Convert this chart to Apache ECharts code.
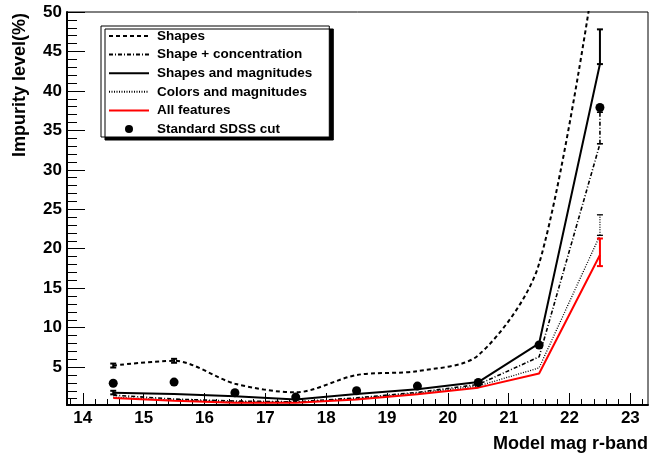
<!DOCTYPE html>
<html>
<head>
<meta charset="utf-8">
<script src="https://cdn.jsdelivr.net/npm/echarts@6/dist/echarts.min.js"></script>
<style>
html,body{margin:0;padding:0;background:#fff;}
#chart{width:651px;height:455px;}
</style>
</head>
<body>
<div id="chart"></div>
<script>
// ---- data ----
const mags = [14.5, 15.5, 16.5, 17.5, 18.5, 19.5, 20.5, 21.5, 22.5];
const shapes = [5.2, 5.8, 2.9, 1.8, 4.0, 4.5, 6.5, 18.1, 59.5];
const shapeConc = [1.45, 0.95, 0.7, 0.6, 1.1, 1.8, 2.8, 6.3, 33.3];
const shapesMags = [1.75, 1.6, 1.3, 0.9, 1.6, 2.2, 3.1, 8.0, 43.4];
const colorsMags = [1.2, 0.8, 0.6, 0.55, 1.0, 1.7, 2.6, 4.9, 21.7];
const allFeat = [1.1, 0.75, 0.5, 0.5, 0.9, 1.55, 2.4, 4.2, 19.2];
const sdss = [2.95, 3.1, 1.75, 1.2, 2.0, 2.6, 3.05, 7.8, 37.9];

// error bars: [mag, low, high]
const shapesErr = [[14.5, 4.95, 5.45], [15.5, 5.55, 6.05]];
const shapesMagsErr = [[14.5, 1.55, 2.0], [22.5, 43.4, 47.8]];
const shapeConcErr = [[22.5, 33.3, 37.3]];
const colorsMagsErr = [[22.5, 21.7, 24.3]];
const allFeatErr = [[22.5, 17.8, 21.3]];

const seriesNames = ['Shapes', 'Shape + concentration', 'Shapes and magnitudes', 'Colors and magnitudes', 'All features', 'Standard SDSS cut'];

// ticks
const xMajor = [14, 15, 16, 17, 18, 19, 20, 21, 22, 23];
const yMajor = [5, 10, 15, 20, 25, 30, 35, 40, 45, 50];
const xMinor = [];
for (let i = 69; i <= 116; i++) { if (i % 5 !== 0) xMinor.push(+(i * 0.2).toFixed(1)); }
const yMinor = [];
for (let i = 1; i < 50; i++) { if (i % 5 !== 0) yMinor.push(i); }

const X_MIN = 13.74, X_MAX = 23.29, Y_MIN = 0.2, Y_MAX = 50;

const chart = echarts.init(document.getElementById('chart'), null, {renderer: 'canvas'});

function pairs(ys) { return mags.map((m, i) => [m, ys[i]]); }

function errSeries(data, color, dash, width) {
  return {
    type: 'custom',
    data: data,
    silent: true,
    z: 5,
    renderItem: function (params, api) {
      const p1 = api.coord([api.value(0), api.value(1)]);
      const p2 = api.coord([api.value(0), api.value(2)]);
      const style = {stroke: color, lineWidth: width, lineDash: dash, fill: null};
      const cw = 3;
      return {
        type: 'group',
        children: [
          {type: 'line', shape: {x1: p1[0], y1: p1[1], x2: p2[0], y2: p2[1]}, style: style},
          {type: 'line', shape: {x1: p1[0] - cw, y1: p1[1], x2: p1[0] + cw, y2: p1[1]}, style: {stroke: color, lineWidth: width}},
          {type: 'line', shape: {x1: p2[0] - cw, y1: p2[1], x2: p2[0] + cw, y2: p2[1]}, style: {stroke: color, lineWidth: width}}
        ]
      };
    }
  };
}

const labelFont = {fontFamily: 'Liberation Sans, Arial, Helvetica, sans-serif', fontWeight: 'bold', color: '#000'};

const legendData = seriesNames.map(n => n === 'Standard SDSS cut'
  ? {name: n, icon: 'circle', itemStyle: {color: '#000', opacity: 1}}
  : {name: n, itemStyle: {opacity: 0}});

const option = {
  animation: false,
  backgroundColor: '#fff',
  grid: {left: 67, right: 3, top: 12, bottom: 50, show: true, borderColor: '#000', borderWidth: 1, backgroundColor: 'transparent'},
  xAxis: [
    {
      type: 'value', min: X_MIN, max: X_MAX, position: 'bottom',
      axisLine: {show: true, onZero: false, lineStyle: {color: '#000', width: 2}},
      splitLine: {show: false},
      axisTick: {show: true, inside: true, length: 12, customValues: xMajor, lineStyle: {color: '#000', width: 1}},
      axisLabel: Object.assign({show: true, fontSize: 17, margin: 5, customValues: xMajor, formatter: v => String(v)}, labelFont)
    },
    {
      type: 'value', min: X_MIN, max: X_MAX, position: 'bottom',
      axisLine: {show: false},
      splitLine: {show: false},
      axisTick: {show: true, inside: true, length: 6, customValues: xMinor, lineStyle: {color: '#000', width: 1}},
      axisLabel: {show: false}
    }
  ],
  yAxis: [
    {
      type: 'value', min: Y_MIN, max: Y_MAX, position: 'left',
      axisLine: {show: true, onZero: false, lineStyle: {color: '#000', width: 2}},
      splitLine: {show: false},
      axisTick: {show: true, inside: true, length: 18, customValues: yMajor, lineStyle: {color: '#000', width: 1}},
      axisLabel: Object.assign({show: true, fontSize: 17, margin: 5, customValues: yMajor, formatter: v => String(v)}, labelFont)
    },
    {
      type: 'value', min: Y_MIN, max: Y_MAX, position: 'left',
      axisLine: {show: false},
      splitLine: {show: false},
      axisTick: {show: true, inside: true, length: 10, customValues: yMinor, lineStyle: {color: '#000', width: 1}},
      axisLabel: {show: false}
    }
  ],
  legend: {
    show: true,
    orient: 'vertical',
    left: 101, top: 26,
    data: legendData,
    itemWidth: 40, itemHeight: 8, itemGap: 4.6,
    padding: [3, 17, 1, 7],
    backgroundColor: '#fff',
    borderColor: '#000', borderWidth: 1,
    shadowColor: '#000', shadowBlur: 0, shadowOffsetX: 4, shadowOffsetY: 3,
    selectedMode: false,
    textStyle: {fontFamily: 'Liberation Sans, Arial, Helvetica, sans-serif', fontWeight: 'bold', fontSize: 13.5, color: '#000', padding: [0, 0, 0, 3]}
  },
  series: [
    {name: 'Shapes', type: 'line', data: pairs(shapes), symbol: 'none', smooth: 0.3, clip: true,
     itemStyle: {color: '#000'}, lineStyle: {color: '#000', width: 2, type: [4, 3]}},
    {name: 'Shape + concentration', type: 'line', data: pairs(shapeConc), symbol: 'none', clip: true,
     itemStyle: {color: '#000'}, lineStyle: {color: '#000', width: 1.6, type: [4, 2, 1, 2]}},
    {name: 'Shapes and magnitudes', type: 'line', data: pairs(shapesMags), symbol: 'none', clip: true,
     itemStyle: {color: '#000'}, lineStyle: {color: '#000', width: 2}},
    {name: 'Colors and magnitudes', type: 'line', data: pairs(colorsMags), symbol: 'none', clip: true,
     itemStyle: {color: '#000'}, lineStyle: {color: '#000', width: 1.3, type: [1, 1.5]}},
    {name: 'All features', type: 'line', data: pairs(allFeat), symbol: 'none', clip: true,
     lineStyle: {color: '#ff0000', width: 2}, itemStyle: {color: '#ff0000'}},
    {name: 'Standard SDSS cut', type: 'scatter', data: pairs(sdss), symbol: 'circle', symbolSize: 9,
     itemStyle: {color: '#000', opacity: 1}, z: 6},
    errSeries(shapesErr, '#000', null, 2),
    errSeries(shapesMagsErr, '#000', null, 2),
    errSeries(shapeConcErr, '#000', [4, 2, 1, 2], 1.6),
    errSeries(colorsMagsErr, '#000', [1, 1.5], 1.3),
    errSeries(allFeatErr, '#ff0000', null, 2)
  ],
  graphic: [
    {type: 'text', x: 20, y: 85, rotation: Math.PI / 2,
     style: {text: 'Impurity level(%)', font: 'bold 18px Liberation Sans, Arial, sans-serif', fill: '#000', align: 'center', verticalAlign: 'middle'}},
    {type: 'text', x: 648, y: 444,
     style: {text: 'Model mag r-band', font: 'bold 18px Liberation Sans, Arial, sans-serif', fill: '#000', align: 'right', verticalAlign: 'middle'}}
  ]
};
chart.setOption(option);
</script>
</body>
</html>
